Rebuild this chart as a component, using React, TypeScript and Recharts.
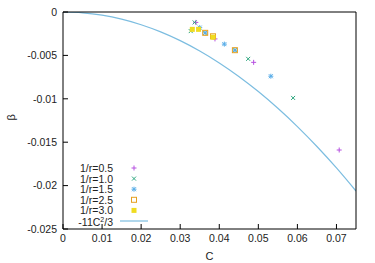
import {
  ComposedChart,
  Scatter,
  Line,
  XAxis,
  YAxis,
} from "recharts";

// C / beta pairs, one group per 1/r
const cR05 = [0.034, 0.0389, 0.0488, 0.0707];
const betaR05 = [-0.0012, -0.0031, -0.0058, -0.0159];

const cR10 = [0.0327, 0.0337, 0.0364, 0.044, 0.0474, 0.0589];
const betaR10 = [-0.0022, -0.0012, -0.0024, -0.0044, -0.0054, -0.0099];

const cR15 = [0.035, 0.0364, 0.0413, 0.044, 0.0532];
const betaR15 = [-0.0018, -0.0024, -0.0037, -0.0044, -0.0074];

const cR25 = [0.0364, 0.0384, 0.044];
const betaR25 = [-0.0024, -0.0028, -0.0044];

const cR30 = [0.0331, 0.0347, 0.0384];
const betaR30 = [-0.002, -0.002, -0.0029];

// -11C^2/3 tabulated
const cCurve = [0, 0.005, 0.01, 0.015, 0.02, 0.025, 0.03, 0.035, 0.04, 0.045, 0.05, 0.055, 0.06, 0.065, 0.07, 0.075];
const betaCurve = [0, -0.0000917, -0.000367, -0.000825, -0.001467, -0.002292, -0.0033, -0.004492, -0.005867, -0.007425, -0.009167, -0.011092, -0.0132, -0.015492, -0.017967, -0.020625];

const xTicks = [0, 0.01, 0.02, 0.03, 0.04, 0.05, 0.06, 0.07];
const yTicks = [0, -0.005, -0.01, -0.015, -0.02, -0.025];

const zip = (c: number[], b: number[]) => c.map((v, i) => ({ c: v, beta: b[i] }));

const COLORS = {
  r05: "#b650e0",
  r10: "#2fa880",
  r15: "#5aaee8",
  r25: "#e6a020",
  r30: "#f0dc20",
  curve: "#7cbde0",
};

const FONT = "'Liberation Sans', Arial, sans-serif";

const Plus = ({ cx, cy, color }: any) => (
  <g stroke={color} strokeWidth={1}>
    <line x1={cx - 2.5} y1={cy} x2={cx + 2.5} y2={cy} />
    <line x1={cx} y1={cy - 2.5} x2={cx} y2={cy + 2.5} />
  </g>
);

const Cross = ({ cx, cy, color }: any) => (
  <g stroke={color} strokeWidth={1}>
    <line x1={cx - 2} y1={cy - 2} x2={cx + 2} y2={cy + 2} />
    <line x1={cx - 2} y1={cy + 2} x2={cx + 2} y2={cy - 2} />
  </g>
);

const Star = ({ cx, cy, color }: any) => (
  <g stroke={color} strokeWidth={1}>
    <line x1={cx - 2} y1={cy - 2} x2={cx + 2} y2={cy + 2} />
    <line x1={cx - 2} y1={cy + 2} x2={cx + 2} y2={cy - 2} />
    <line x1={cx - 2.5} y1={cy} x2={cx + 2.5} y2={cy} />
    <line x1={cx} y1={cy - 2.5} x2={cx} y2={cy + 2.5} />
  </g>
);

const OpenSquare = ({ cx, cy, color }: any) => (
  <rect x={cx - 2.5} y={cy - 2.5} width={5} height={5} fill="none" stroke={color} strokeWidth={1} />
);

const FilledSquare = ({ cx, cy, color }: any) => (
  <rect x={cx - 2.5} y={cy - 2.5} width={5} height={5} fill={color} />
);

const legendItems = [
  { label: "1/r=0.5", Mark: Plus, color: COLORS.r05 },
  { label: "1/r=1.0", Mark: Cross, color: COLORS.r10 },
  { label: "1/r=1.5", Mark: Star, color: COLORS.r15 },
  { label: "1/r=2.5", Mark: OpenSquare, color: COLORS.r25 },
  { label: "1/r=3.0", Mark: FilledSquare, color: COLORS.r30 },
];

// key box, placed over the lower left of the plot
const KeyBox = () => (
  <svg
    width={110}
    height={66}
    style={{ position: "absolute", left: 63, top: 163, fontFamily: FONT, fontSize: 10.5 }}
  >
    {legendItems.map(({ label, Mark, color }, i) => (
      <g key={label}>
        <text x={50} y={5 + i * 10.6} textAnchor="end" dominantBaseline="central" fill="#222">
          {label}
        </text>
        <Mark cx={71} cy={5 + i * 10.6} color={color} />
      </g>
    ))}
    <text x={50} y={58.5} textAnchor="end" dominantBaseline="central" fill="#222">
      -11C<tspan dy={-3} fontSize={7}>2</tspan><tspan dy={3}>/3</tspan>
    </text>
    <line x1={57} y1={58} x2={85} y2={58} stroke={COLORS.curve} strokeWidth={1.2} />
  </svg>
);

const tickStyle = { fontSize: 10.5, fill: "#222", fontFamily: FONT };

export default function App() {
  return (
    <div style={{ position: "absolute", left: 0, top: 0, width: 375, height: 263, background: "#fff" }}>
      <ComposedChart
        width={375}
        height={263}
        margin={{ top: 11, right: 18, bottom: 0, left: 8 }}
      >
        <XAxis
          xAxisId="bottom"
          dataKey="c"
          type="number"
          domain={[0, 0.075]}
          ticks={xTicks}
          allowDataOverflow
          tickSize={-5}
          tickMargin={11}
          height={34}
          stroke="#000"
          tick={tickStyle}
          label={{ value: "C", position: "insideBottom", offset: 3, style: { fontSize: 11, fill: "#222", fontFamily: FONT } }}
        />
        <XAxis
          xAxisId="top"
          orientation="top"
          dataKey="c"
          type="number"
          domain={[0, 0.075]}
          ticks={xTicks}
          height={1}
          tickSize={-5}
          tick={false}
          stroke="#000"
        />
        <YAxis
          yAxisId="left"
          dataKey="beta"
          type="number"
          domain={[-0.025, 0]}
          ticks={yTicks}
          allowDataOverflow
          width={55}
          tickSize={-5}
          tickMargin={11}
          stroke="#000"
          tick={tickStyle}
          label={{ value: "β", angle: -90, position: "insideLeft", offset: 0, dx: 3, style: { fontSize: 11, fill: "#222", fontFamily: FONT } }}
        />
        <YAxis
          yAxisId="right"
          orientation="right"
          dataKey="beta"
          type="number"
          domain={[-0.025, 0]}
          ticks={yTicks}
          width={1}
          tickSize={-5}
          tick={false}
          stroke="#000"
        />
        <Line
          xAxisId="bottom"
          yAxisId="left"
          data={zip(cCurve, betaCurve)}
          dataKey="beta"
          type="monotone"
          stroke={COLORS.curve}
          strokeWidth={1.2}
          dot={false}
          isAnimationActive={false}
        />
        <Scatter xAxisId="bottom" yAxisId="left" data={zip(cR05, betaR05)} shape={(p: any) => <Plus {...p} color={COLORS.r05} />} isAnimationActive={false} />
        <Scatter xAxisId="bottom" yAxisId="left" data={zip(cR10, betaR10)} shape={(p: any) => <Cross {...p} color={COLORS.r10} />} isAnimationActive={false} />
        <Scatter xAxisId="bottom" yAxisId="left" data={zip(cR15, betaR15)} shape={(p: any) => <Star {...p} color={COLORS.r15} />} isAnimationActive={false} />
        <Scatter xAxisId="bottom" yAxisId="left" data={zip(cR25, betaR25)} shape={(p: any) => <OpenSquare {...p} color={COLORS.r25} />} isAnimationActive={false} />
        <Scatter xAxisId="bottom" yAxisId="left" data={zip(cR30, betaR30)} shape={(p: any) => <FilledSquare {...p} color={COLORS.r30} />} isAnimationActive={false} />
      </ComposedChart>
      <KeyBox />
    </div>
  );
}
